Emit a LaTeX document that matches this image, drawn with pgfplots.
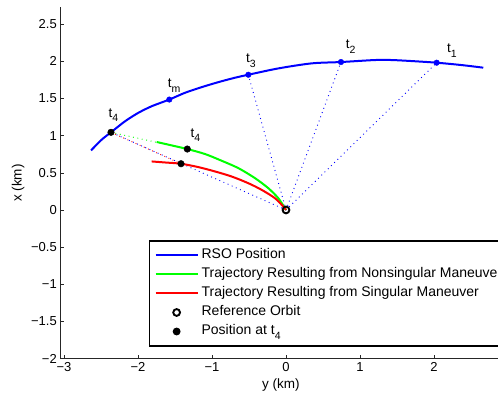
\documentclass[border=0pt]{standalone}
\usepackage{fontspec}
\setmainfont{Liberation Sans}
\usepackage{pgfplots}
\pgfplotsset{compat=1.18}
\definecolor{mblue}{RGB}{0,0,255}
\definecolor{mgreen}{RGB}{0,255,0}
\definecolor{mred}{RGB}{255,0,0}
\newcommand{\tl}[1]{t\raisebox{-4.5pt}{\fontsize{10.5}{11}\selectfont #1}}
\begin{document}
\begin{tikzpicture}
\begin{axis}[
  x=74pt, y=74.3pt,
  xmin=-3.05, xmax=2.9, ymin=-2.0, ymax=2.725,
  axis lines=left,
  axis line style={-, line width=0.8pt, black!85},
  tick style={black!85, line width=0.6pt},
  major tick length=4pt,
  tick align=inside,
  xtick={-3,-2,-1,0,1,2},
  xticklabels={−3,−2,−1,0,1,2},
  ytick={-2,-1.5,-1,-0.5,0,0.5,1,1.5,2,2.5},
  yticklabels={−2,−1.5,−1,−0.5,0,0.5,1,1.5,2,2.5},
  tick label style={font=\fontsize{13}{15}\selectfont},
  xlabel={y (km)}, ylabel={x (km)},
  every axis x label/.style={at={(axis description cs:0.501,-0.075)}, anchor=center, font=\fontsize{13.5}{16}\selectfont},
  every axis y label/.style={at={(axis description cs:-0.096,0.5)}, anchor=center, rotate=90, font=\fontsize{13.5}{16}\selectfont},
  clip=false,
  legend cell align=left,
  legend image code/.code={\draw[mark repeat=2,mark phase=2,#1] plot coordinates {(0pt,0pt) (21pt,0pt) (42pt,0pt)};},
  legend style={at={(axis description cs:0.2015,0.3366)}, anchor=north west, draw=black, line width=1.2pt, fill=white,
    inner xsep=5pt, inner ysep=5pt, font=\fontsize{14}{16}\selectfont,
    nodes={text height=10pt, text depth=3.5pt, inner ysep=2.75pt, inner xsep=3pt}},
]
% dotted connectors
\addplot[mblue, line width=0.9pt, dash pattern=on 0.9pt off 3.6pt, forget plot] coordinates {(0,0) (2.036,1.982)};
\addplot[mblue, line width=0.9pt, dash pattern=on 0.9pt off 3.6pt, forget plot] coordinates {(0,0) (0.743,1.991)};
\addplot[mblue, line width=0.9pt, dash pattern=on 0.9pt off 3.6pt, forget plot] coordinates {(0,0) (-0.509,1.820)};
\addplot[mblue, line width=0.9pt, dash pattern=on 0.9pt off 3.6pt, forget plot] coordinates {(0,0) (-2.365,1.045)};
\addplot[mgreen, line width=0.9pt, dash pattern=on 0.9pt off 3.6pt, forget plot] coordinates {(-2.365,1.045) (-1.334,0.820)};
\addplot[mred, line width=0.9pt, dash pattern=on 0.9pt off 3.6pt, forget plot] coordinates {(-2.365,1.045) (-1.419,0.622)};
% RSO position
\addplot[mblue, line width=2pt, smooth, tension=0.5] coordinates {
(-2.635,0.801) (-2.491,0.946) (-2.365,1.045) (-2.176,1.193) (-1.996,1.307)
(-1.815,1.396) (-1.577,1.486) (-1.365,1.577) (-1.139,1.653) (-0.915,1.720)
(-0.689,1.780) (-0.509,1.820) (-0.104,1.905) (0.347,1.973) (0.743,1.991)
(1.203,2.018) (1.428,2.018) (1.699,2.004) (2.036,1.982) (2.374,1.950) (2.666,1.915)};
\addlegendentry{RSO Position}
% nonsingular
\addplot[mgreen, line width=2pt, smooth, tension=0.5] coordinates {
(-1.748,0.915) (-1.545,0.869) (-1.334,0.820) (-1.095,0.753) (-0.869,0.662)
(-0.644,0.563) (-0.419,0.428) (-0.239,0.293) (-0.104,0.158) (-0.014,0.023) (0,0)};
\addlegendentry{Trajectory Resulting from Nonsingular Maneuver}
% singular
\addplot[mred, line width=2pt, smooth, tension=0.5] coordinates {
(-1.815,0.653) (-1.635,0.639) (-1.419,0.622) (-1.185,0.577) (-0.959,0.518)
(-0.734,0.450) (-0.509,0.360) (-0.328,0.270) (-0.149,0.158) (-0.036,0.045) (0,0)};
\addlegendentry{Trajectory Resulting from Singular Maneuver}
% blue time markers
\addplot[only marks, mark=*, mark size=2.8pt, mblue, forget plot] coordinates {
(2.036,1.982) (0.743,1.991) (-0.509,1.820) (-1.577,1.486)};
% reference orbit
\addplot[only marks, mark=o, mark size=3.4pt, black, line width=1.9pt] coordinates {(0,0)};
\addlegendentry{Reference Orbit}
% position at t4
\addplot[only marks, mark=*, mark size=3.3pt, black] coordinates {
(-2.365,1.045) (-1.334,0.820) (-1.419,0.622)};
\addlegendentry{Position at \tl{4}}
% labels
\node[anchor=base west, inner sep=0pt, font=\fontsize{13.5}{16}\selectfont] at (axis cs:2.176,2.117) {\tl{1}};
\node[anchor=base west, inner sep=0pt, font=\fontsize{13.5}{16}\selectfont] at (axis cs:0.807,2.167) {\tl{2}};
\node[anchor=base west, inner sep=0pt, font=\fontsize{13.5}{16}\selectfont] at (axis cs:-0.541,1.978) {\tl{3}};
\node[anchor=base west, inner sep=0pt, font=\fontsize{13.5}{16}\selectfont] at (axis cs:-1.599,1.646) {\tl{m}};
\node[anchor=base west, inner sep=0pt, font=\fontsize{13.5}{16}\selectfont] at (axis cs:-2.401,1.248) {\tl{4}};
\node[anchor=base west, inner sep=0pt, font=\fontsize{13.5}{16}\selectfont] at (axis cs:-1.293,0.978) {\tl{4}};
\coordinate (bbTL) at (axis cs:-3.865,2.826);
\coordinate (bbBR) at (axis cs:2.865,-2.503);
\end{axis}
\pgfresetboundingbox
\useasboundingbox (bbTL) rectangle (bbBR);
\end{tikzpicture}
\end{document}
